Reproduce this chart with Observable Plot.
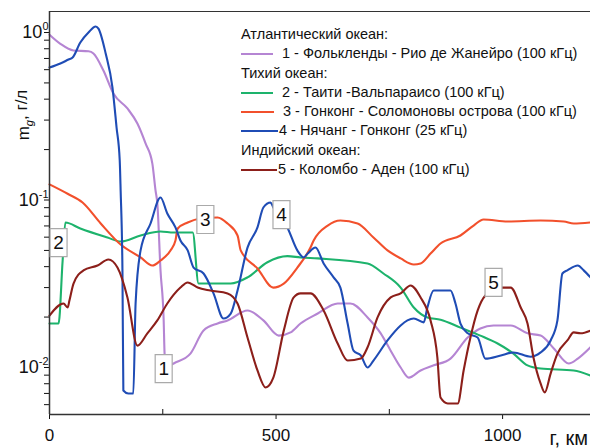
<!DOCTYPE html>
<html><head><meta charset="utf-8">
<script src="https://cdn.jsdelivr.net/npm/d3@7"></script>
<script src="https://cdn.jsdelivr.net/npm/@observablehq/plot@0.6"></script>
<style>
body{margin:0;background:#fff;font-family:"Liberation Sans",Arial,sans-serif;}
#wrap{position:relative;width:590px;height:448px;overflow:hidden;}
#legend{position:absolute;left:241px;top:25px;font-size:14.5px;color:#111;line-height:19.3px;white-space:nowrap;}
#legend .row{height:19.3px;display:flex;align-items:center;}
#legend .sw{display:inline-block;height:2px;margin-right:8px;}
</style></head><body><div id="wrap"><div id="legend"></div></div>
<script>
// Series 1 – Atlantic: Falklands – Rio de Janeiro (100 kHz)
const km1 = [0,24,53,86,97,119,141,172,194,212,227,234,238,245,252,254,258,267,274,311,340,371,393,437,472,506,532,554,592,636,664,702,731,753,775,793,819,848,885,923,951,980,1018,1055,1084,1113,1146,1166,1194];
const mg1 = [0.97,0.856,0.781,0.773,0.75,0.593,0.432,0.352,0.286,0.2175,0.165,0.114,0.0953,0.038,0.0191,0.0121,0.0096,0.0103,0.01056,0.0121,0.01663,0.01832,0.0191,0.0219,0.0191,0.0155,0.0162,0.0183,0.021,0.0241,0.0241,0.0199,0.016,0.0126,0.01,0.0087,0.0096,0.0103,0.0113,0.0151,0.0171,0.0178,0.0178,0.016,0.0155,0.013,0.01056,0.0113,0.0132];
// Series 2 – Pacific: Tahiti – Valparaiso (100 kHz)
const km2 = [0,20,29,35,68,128,157,201,245,274,316,329,362,400,437,481,525,554,592,702,737,775,804,834,863,907,951,989,1024,1055,1084,1157,1194];
const mg2 = [0.0183,0.0183,0.0435,0.0734,0.0676,0.0597,0.0565,0.0614,0.0649,0.064,0.064,0.0317,0.0317,0.0317,0.0345,0.0425,0.0462,0.0454,0.0448,0.0418,0.0364,0.03,0.0228,0.0199,0.0193,0.0173,0.0155,0.0139,0.0121,0.0103,0.00986,0.0096,0.00896];
// Series 3 – Pacific: Hong Kong – Solomon Islands (100 kHz)
const km3 = [0,40,73,113,157,201,227,245,267,278,283,305,333,371,393,415,422,459,494,517,547,576,583,614,642,680,715,746,775,804,819,841,863,907,936,958,1011,1084,1135,1157,1194];
const mg3 = [0.124,0.109,0.0966,0.0724,0.0542,0.0454,0.0406,0.0435,0.05,0.0573,0.0676,0.0734,0.0776,0.0787,0.0724,0.0614,0.05,0.039,0.03,0.0317,0.0395,0.052,0.0573,0.0704,0.0754,0.0724,0.0597,0.05,0.0448,0.0412,0.0418,0.0479,0.055,0.0614,0.0704,0.0765,0.0744,0.0754,0.0744,0.0724,0.0734];
// Series 4 – Pacific: Nha Trang – Hong Kong (25 kHz)
const km4 = [0,24,42,51,68,86,102,108,124,139,148,155,157,161,163,174,185,190,201,223,245,260,278,289,305,318,340,362,384,400,415,437,459,472,488,494,525,547,561,570,587,605,627,642,658,671,687,702,715,746,775,790,804,826,834,848,879,885,896,907,923,945,962,996,1024,1062,1084,1106,1121,1132,1143,1166,1179,1194];
const mg4 = [0.618,0.653,0.69,0.709,0.872,1.0,1.086,1.056,0.75,0.469,0.271,0.172,0.114,0.038,0.00729,0.007,0.007,0.0241,0.05,0.0724,0.1035,0.083,0.0686,0.0573,0.05,0.0395,0.0364,0.0277,0.0196,0.021,0.0288,0.052,0.0686,0.0902,0.0966,0.0902,0.0686,0.05,0.0454,0.0479,0.052,0.0418,0.0345,0.03,0.0183,0.0126,0.0118,0.01,0.011,0.0145,0.0178,0.0191,0.0196,0.0186,0.0228,0.0288,0.0288,0.0288,0.0241,0.0183,0.016,0.0151,0.0113,0.0118,0.0123,0.0116,0.0123,0.0145,0.0191,0.0364,0.038,0.0406,0.038,0.0345];
// Series 5 – Indian: Colombo – Aden (100 kHz)
const km5 = [0,31,40,44,53,75,106,130,150,172,194,216,238,260,289,305,327,355,393,415,437,459,477,494,517,539,554,576,605,636,658,687,702,724,753,775,797,819,841,856,863,879,901,914,929,945,962,996,1018,1040,1055,1068,1084,1093,1106,1121,1143,1157,1172,1194];
const mg5 = [0.0204,0.0241,0.0228,0.0251,0.0317,0.038,0.0406,0.0441,0.0395,0.0262,0.0135,0.016,0.0191,0.0241,0.03,0.0322,0.03,0.0288,0.0277,0.0241,0.0151,0.0096,0.0076,0.0087,0.0166,0.0262,0.0277,0.0277,0.0219,0.0139,0.011,0.0113,0.0132,0.0199,0.0262,0.0277,0.0309,0.0262,0.0191,0.0115,0.00662,0.0061,0.0061,0.0096,0.0151,0.0219,0.0269,0.03,0.03,0.0228,0.0183,0.0115,0.008,0.0071,0.0092,0.0121,0.0145,0.0162,0.016,0.0166];

const seriesKm = [km1, km2, km3, km4, km5];
const seriesMg = [mg1, mg2, mg3, mg4, mg5];
const seriesColors = ["#b585d3", "#1db36c", "#f2502c", "#1f4cb5", "#8c1f1a"];

// Legend rows
const legendRows = [
  {head: "Атлантический океан:"},
  {s: 0, text: "1 - Фолькленды - Рио де Жанейро (100 кГц)"},
  {head: "Тихий океан:"},
  {s: 1, text: "2 - Таити -Вальпараисо (100 кГц)"},
  {s: 2, text: "3 -  Гонконг - Соломоновы острова (100 кГц)"},
  {s: 3, text: "4 -  Нячанг - Гонконг (25 кГц)"},
  {head: "Индийский океан:"},
  {s: 4, text: "5 - Коломбо - Аден (100 кГц)"}
];
const legendSwatchW = [32, 32, 33, 37, 36];
const legendGap = [9, 9, 9, 1, 1];

// Curve labels
const labelText = ["1", "2", "3", "4", "5"];
const labelKm = [252, 20, 344, 512, 980];
const labelMg = [0.00985, 0.0557, 0.0765, 0.0819, 0.0322];

// Axis ticks
const xMajor = [0, 500, 1000];
const xMinor = [250, 750];
const yMajor = [1, 0.1, 0.01];
const yExp = ["0", "-1", "-2"];
const yMinor = [];
[0.001, 0.01, 0.1].forEach(b => { for (let k = 2; k <= 9; k++) yMinor.push(b * k); });

const xDomain = [0, 1194];
const yDomain = [0.00524, 1.335];

const data = [];
seriesKm.forEach((ks, s) => ks.forEach((k, i) => data.push({s, km: k, mg: seriesMg[s][i]})));
const labels = labelText.map((t, i) => ({t, km: labelKm[i], mg: labelMg[i]}));

const boxSymbol = { draw(ctx) { ctx.moveTo(-8.5, -14); ctx.lineTo(8.5, -14); ctx.lineTo(8.5, 14); ctx.lineTo(-8.5, 14); ctx.closePath(); } };

const chart = Plot.plot({
  width: 590, height: 448,
  marginLeft: 49, marginRight: 0, marginTop: 11, marginBottom: 34,
  style: {fontFamily: '"Liberation Sans", Arial, sans-serif', background: "#fff", color: "#111"},
  x: {domain: xDomain},
  y: {type: "log", domain: yDomain},
  marks: [
    Plot.axisX({ticks: xMajor, tickSize: 5, tickPadding: 9, fontSize: 17, label: null, tickFormat: d => String(d)}),
    Plot.axisX({ticks: xMinor, tickSize: -5, tickFormat: () => "", label: null}),
    Plot.axisY({ticks: yMinor.filter(v => v > yDomain[0] && v < yDomain[1]), tickSize: 5, tickFormat: () => "", label: null}),
    Plot.axisY({ticks: yMajor, tickSize: 5, tickPadding: -4, fontSize: 18, label: null, tickFormat: d => "10^" + yExp[yMajor.indexOf(d)]}),
    Plot.lineY(data, {x: "km", y: "mg", z: "s", stroke: d => seriesColors[d.s], strokeWidth: 2.1, curve: "monotone-x"}),
    Plot.ruleX([xDomain[0]], {stroke: "#333", strokeWidth: 1.5}),
    Plot.ruleY([yDomain[0]], {stroke: "#333", strokeWidth: 1.5}),
    Plot.ruleY([yDomain[1]], {stroke: "#333", strokeWidth: 1.2}),
    Plot.dot(labels, {x: "km", y: "mg", symbol: boxSymbol, r: 1, fill: "#fff", stroke: "#aaa", strokeWidth: 1.2}),
    Plot.text(labels, {x: "km", y: "mg", text: "t", fontSize: 19, fill: "#111"})
  ]
});

document.getElementById("wrap").prepend(chart);

// superscript tick labels
d3.select(chart).selectAll('g[aria-label="y-axis tick label"] text').each(function() {
  const t = d3.select(this);
  const [base, ex] = t.text().split("^");
  t.text(null);
  t.append("tspan").text(base);
  t.append("tspan").attr("font-size", 11).attr("dy", "-0.75em").text(ex);
});

const svg = d3.select(chart);
// y axis label m_g, г/л
const yl = svg.append("text").attr("transform", "translate(29,115) rotate(-90)")
  .attr("text-anchor", "middle").attr("font-size", 17).attr("fill", "#111");
yl.append("tspan").text("m");
yl.append("tspan").attr("font-size", 11).attr("dy", "0.35em").attr("font-style", "italic").text("g");
yl.append("tspan").attr("dy", "-0.35em").text(", г/л");
// x axis label
svg.append("text").attr("x", 588).attr("y", 445).attr("text-anchor", "end")
  .attr("font-size", 20).attr("fill", "#111").text("г, км");

// legend
const lg = d3.select("#legend");
legendRows.forEach(r => {
  const row = lg.append("div").attr("class", "row");
  if (r.head) { row.append("span").text(r.head); }
  else {
    row.append("span").attr("class", "sw")
      .style("width", legendSwatchW[r.s] + "px")
      .style("margin-right", legendGap[r.s] + "px")
      .style("background", seriesColors[r.s]);
    row.append("span").text(r.text);
  }
});
</script>
</body></html>
